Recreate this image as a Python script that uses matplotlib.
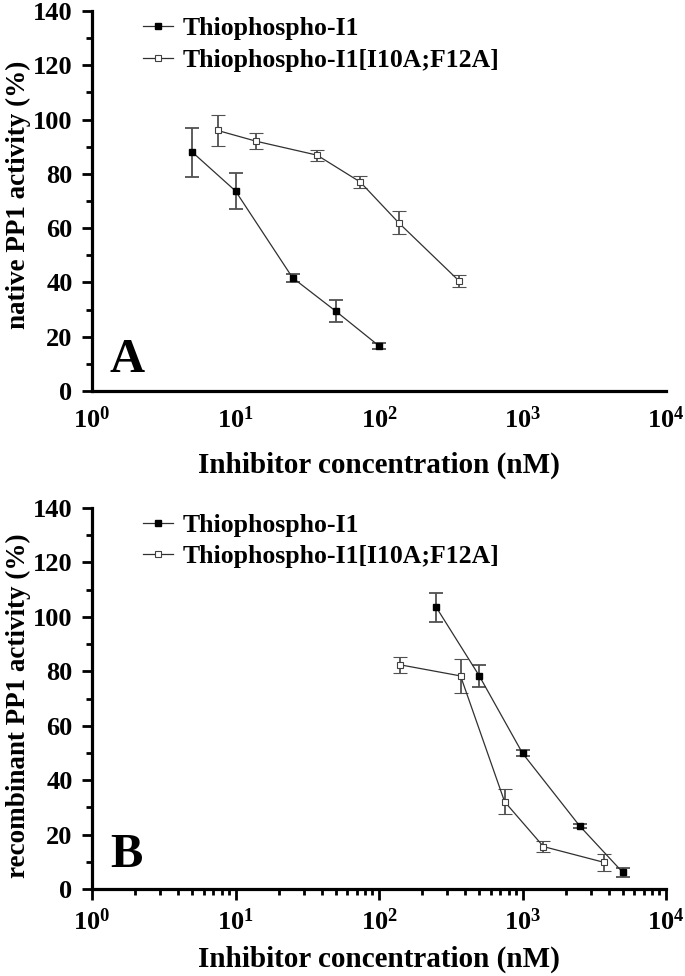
import matplotlib
matplotlib.use('Agg')
import matplotlib.pyplot as plt
from matplotlib.lines import Line2D
from matplotlib.ticker import MultipleLocator, LogLocator, NullFormatter, FixedLocator

plt.rcParams['font.family'] = ['Liberation Serif', 'DejaVu Serif']
plt.rcParams['font.weight'] = 'bold'
plt.rcParams['mathtext.fontset'] = 'custom'
plt.rcParams['mathtext.rm'] = 'Liberation Serif:bold'
plt.rcParams['mathtext.it'] = 'Liberation Serif:bold'
plt.rcParams['mathtext.bf'] = 'Liberation Serif:bold'

# panel A - native PP1
a_wt_x = [5, 10, 25, 50, 100]
a_wt_y = [88, 73.7, 41.7, 29.4, 16.6]
a_wt_err = [9, 6.7, 1.4, 4, 1.2]
a_mut_x = [7.5, 14, 37, 74, 137, 362]
a_mut_y = [96, 92, 86.9, 77, 62, 40.5]
a_mut_err = [5.7, 2.9, 2, 2.2, 4.3, 2.2]

# panel B - recombinant PP1
b_wt_x = [250, 500, 1000, 2500, 5000]
b_wt_y = [103.6, 78.3, 49.9, 23.2, 6.1]
b_wt_err = [5.3, 4, 1.2, 0.7, 1.6]
b_mut_x = [140, 370, 750, 1400, 3700]
b_mut_y = [82.4, 78.3, 32.1, 15.6, 9.8]
b_mut_err = [2.9, 6.1, 4.7, 1.9, 3]

labels = ['Thiophospho-I1', 'Thiophospho-I1[I10A;F12A]']
xticks = [1, 10, 100, 1000, 10000]
xticklabels = [r'$10^{%d}$' % i for i in range(5)]

fig = plt.figure(figsize=(6.85, 9.76), dpi=100)
axA = fig.add_axes([0.1343, 0.5994, 0.838, 0.3893])
axB = fig.add_axes([0.1343, 0.0891, 0.838, 0.3904])

line_kw = dict(color='#303030', lw=0.9, marker='s', ms=4)
err_kw = dict(ecolor='#505050', elinewidth=1.3, capsize=5, capthick=1.3)


def draw(ax, wx, wy, we, mx, my, me, legend_y):
    ax.errorbar(wx, wy, yerr=we, mfc='black', mec='black', **line_kw, **err_kw)
    ax.errorbar(mx, my, yerr=me, mfc='white', mec='#404040', mew=0.8, **line_kw, **err_kw)
    ax.set_xscale('log')
    ax.set_xlim(1, 10000)
    ax.set_ylim(0, 140)
    for s in ['top', 'right']:
        ax.spines[s].set_visible(False)
    for s in ['left', 'bottom']:
        ax.spines[s].set_linewidth(2.3)
    ax.yaxis.set_major_locator(MultipleLocator(20))
    ax.yaxis.set_minor_locator(MultipleLocator(10))
    ax.tick_params(axis='y', which='major', length=7, width=2, labelsize=19, pad=7)
    ax.tick_params(axis='y', which='minor', length=4, width=2)
    ax.set_xticks(xticks)
    ax.set_xticklabels(xticklabels)
    ax.set_xlabel('Inhibitor concentration (nM)', fontsize=21, fontweight='bold')
    handles = [Line2D([], [], mfc='black', mec='black', **line_kw),
               Line2D([], [], mfc='white', mec='#404040', mew=0.8, **line_kw)]
    ax.legend(handles, labels, loc='upper left', bbox_to_anchor=(0.088, legend_y),
              frameon=False, fontsize=18.5, handlelength=1.2, handletextpad=0.35,
              labelspacing=0.33, borderpad=0, borderaxespad=0)


draw(axA, a_wt_x, a_wt_y, a_wt_err, a_mut_x, a_mut_y, a_mut_err, 0.983)
draw(axB, b_wt_x, b_wt_y, b_wt_err, b_mut_x, b_mut_y, b_mut_err, 0.985)

axA.tick_params(axis='x', which='both', length=0, labelsize=19, pad=11)
axA.xaxis.set_minor_locator(FixedLocator([]))
axA.xaxis.set_label_coords(0.5, -0.159)
axA.set_ylabel('native PP1 activity (%)', fontsize=19.5, fontweight='bold')
axA.yaxis.set_label_coords(-0.1054, 0.515)

axB.xaxis.set_minor_locator(LogLocator(base=10, subs=range(2, 10)))
axB.xaxis.set_minor_formatter(NullFormatter())
axB.tick_params(axis='x', which='major', length=8, width=2, labelsize=19, pad=6)
axB.tick_params(axis='x', which='minor', length=4, width=2)
axB.xaxis.set_label_coords(0.5, -0.1496)
axB.set_ylabel('recombinant PP1 activity (%)', fontsize=19.5, fontweight='bold')
axB.yaxis.set_label_coords(-0.1054, 0.48)

axA.text(0.031, 0.05, 'A', transform=axA.transAxes, fontsize=35, fontweight='bold')
axB.text(0.031, 0.058, 'B', transform=axB.transAxes, fontsize=35, fontweight='bold')

fig.savefig('out.png', dpi=100)
